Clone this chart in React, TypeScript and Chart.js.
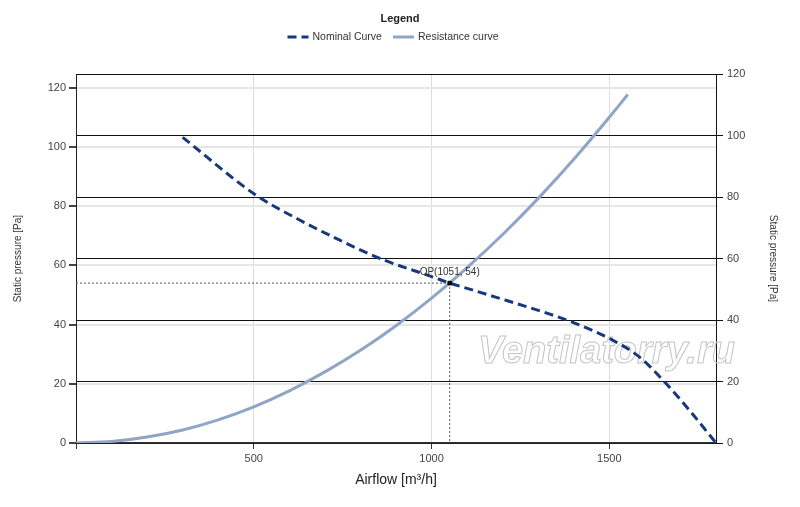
import { useEffect, useRef } from 'react'
import { Chart, type ChartConfiguration, type Plugin } from 'chart.js/auto'

const FONT = "'Liberation Sans', Arial, sans-serif"
Chart.defaults.font.family = FONT

// axis ticks
const flowTicks = [0, 500, 1000, 1500]
const pressureTicks = [0, 20, 40, 60, 80, 100, 120]

// fan curve
const nominalFlow = [300, 506, 621, 733, 855, 1005, 1051, 1117, 1211, 1305, 1398, 1502, 1586, 1661, 1727, 1800]
const nominalPressure = [103.2, 83.7, 75.8, 69, 62.3, 56, 54, 51.6, 48.1, 44.6, 40.7, 35.2, 28.9, 19.9, 10.8, 0]

// system resistance curve
const resistanceFlow = [0, 100, 200, 300, 400, 500, 600, 700, 800, 900, 1000, 1100, 1200, 1300, 1400, 1500, 1552]
const resistancePressure = [0, 0.5, 2, 4.4, 7.8, 12.2, 17.6, 24, 31.3, 39.6, 48.9, 59.2, 70.4, 82.6, 95.8, 110, 117.7]

// operating point
const opFlow = 1051
const opPressure = 54

const toPoints = (xs: number[], ys: number[]) => xs.map((x, i) => ({ x, y: ys[i] }))

const decorPlugin: Plugin<'line'> = {
  id: 'decor',
  beforeDatasetsDraw(chart) {
    const { ctx } = chart
    ctx.save()
    ctx.font = `italic bold 38px ${FONT}`
    ctx.strokeStyle = '#c4c4c4'
    ctx.lineWidth = 1
    ctx.textAlign = 'left'
    ctx.textBaseline = 'alphabetic'
    ctx.strokeText('Ventilatorry.ru', 478, 363)
    ctx.restore()
  },
  afterDatasetsDraw(chart) {
    const { ctx } = chart
    const x = chart.scales.x.getPixelForValue(opFlow)
    const y = chart.scales.y.getPixelForValue(opPressure)
    ctx.save()
    ctx.font = `10px ${FONT}`
    ctx.fillStyle = '#333'
    ctx.textAlign = 'center'
    ctx.textBaseline = 'bottom'
    ctx.fillText(`OP(${opFlow}, ${opPressure})`, x, y - 6)
    ctx.restore()
  },
  afterDraw(chart) {
    const { ctx } = chart
    const items = chart.data.datasets.filter(d => d.label)
    ctx.save()
    ctx.textBaseline = 'middle'
    ctx.fillStyle = '#222'
    ctx.font = `bold 11px ${FONT}`
    ctx.textAlign = 'center'
    ctx.fillText('Legend', 400, 19)

    ctx.font = `10.5px ${FONT}`
    ctx.textAlign = 'left'
    const swatch = 21
    const gap = 4
    const spacing = 11
    const widths = items.map(d => swatch + gap + ctx.measureText(d.label as string).width)
    const total = widths.reduce((a, b) => a + b, 0) + spacing * (items.length - 1)
    let x = 393 - total / 2
    items.forEach((d, i) => {
      ctx.strokeStyle = d.borderColor as string
      ctx.lineWidth = 3
      ctx.setLineDash(((d as any).borderDash as number[]) ?? [])
      ctx.beginPath()
      ctx.moveTo(x, 37)
      ctx.lineTo(x + swatch, 37)
      ctx.stroke()
      ctx.setLineDash([])
      ctx.fillStyle = '#333'
      ctx.fillText(d.label as string, x + swatch + gap, 37)
      x += widths[i] + spacing
    })
    ctx.restore()
  },
}

export default function App() {
  const canvasRef = useRef<HTMLCanvasElement | null>(null)
  const chartRef = useRef<Chart | null>(null)

  useEffect(() => {
    document.body.style.margin = '0'
    if (!canvasRef.current) return

    const config: ChartConfiguration<'line'> = {
      type: 'line',
      data: {
        datasets: [
          {
            data: [{ x: opFlow, y: opPressure }],
            showLine: false,
            pointStyle: 'rect',
            pointRadius: 2.5,
            pointBackgroundColor: '#000',
            pointBorderColor: '#000',
          },
          {
            data: [
              { x: 0, y: opPressure },
              { x: opFlow, y: opPressure },
            ],
            borderColor: '#555',
            borderWidth: 1,
            borderDash: [2, 2],
            pointRadius: 0,
          },
          {
            data: [
              { x: opFlow, y: opPressure },
              { x: opFlow, y: 0 },
            ],
            borderColor: '#555',
            borderWidth: 1,
            borderDash: [2, 2],
            pointRadius: 0,
          },
          {
            label: 'Nominal Curve',
            data: toPoints(nominalFlow, nominalPressure),
            borderColor: '#17387a',
            borderWidth: 3,
            borderDash: [9, 5],
            cubicInterpolationMode: 'monotone',
            pointRadius: 0,
          },
          {
            label: 'Resistance curve',
            data: toPoints(resistanceFlow, resistancePressure),
            borderColor: '#8fa4c6',
            borderWidth: 3,
            cubicInterpolationMode: 'monotone',
            pointRadius: 0,
          },
        ],
      },
      options: {
        responsive: true,
        maintainAspectRatio: false,
        animation: false,
        layout: { padding: { top: 74, left: 0, right: 0, bottom: 0 } },
        plugins: {
          legend: { display: false },
          tooltip: { enabled: false },
        },
        scales: {
          x: {
            type: 'linear',
            min: 0,
            max: 1800,
            afterBuildTicks: s => {
              s.ticks = flowTicks.map(value => ({ value }))
            },
            afterFit: s => {
              s.height = 64
            },
            grid: { color: '#dcdcdc', tickColor: '#333', tickLength: 6 },
            border: { color: '#333', width: 1.5 },
            ticks: {
              color: '#444',
              font: { size: 11 },
              padding: 3,
              maxRotation: 0,
              callback: v => (v === 0 ? '' : String(v)),
            },
            title: {
              display: true,
              text: 'Airflow [m³/h]',
              color: '#222',
              font: { size: 14 },
              padding: { top: 0, bottom: 18 },
            },
          },
          y: {
            type: 'linear',
            position: 'left',
            min: 0,
            max: 124.6,
            afterBuildTicks: s => {
              s.ticks = pressureTicks.map(value => ({ value }))
            },
            afterFit: s => {
              s.width = 76
            },
            grid: { color: '#e6e6e6', lineWidth: 2, tickColor: '#444', tickLength: 7 },
            border: { color: '#222', width: 1 },
            ticks: { color: '#444', font: { size: 11 }, padding: 3 },
            title: {
              display: true,
              text: 'Static pressure [Pa]',
              color: '#333',
              font: { size: 10 },
              padding: { top: 12, bottom: 0 },
            },
          },
          y2: {
            type: 'linear',
            position: 'right',
            min: 0,
            max: 120,
            afterBuildTicks: s => {
              s.ticks = pressureTicks.map(value => ({ value }))
            },
            afterFit: s => {
              s.width = 84
            },
            grid: { color: '#111', lineWidth: 1, tickColor: '#111', tickLength: 7 },
            border: { color: '#111', width: 1 },
            ticks: { color: '#444', font: { size: 11 }, padding: 4 },
            title: {
              display: true,
              text: 'Static pressure [Pa]',
              color: '#333',
              font: { size: 10 },
              padding: { top: 21, bottom: 0 },
            },
          },
        },
      },
      plugins: [decorPlugin],
    }

    chartRef.current = new Chart(canvasRef.current, config)
    return () => chartRef.current?.destroy()
  }, [])

  return (
    <div style={{ position: 'relative', width: 800, height: 507 }}>
      <canvas
        ref={canvasRef}
        role="img"
        aria-label={`Fan curve with resistance curve, operating point ${opFlow} m³/h at ${opPressure} Pa`}
      />
    </div>
  )
}
